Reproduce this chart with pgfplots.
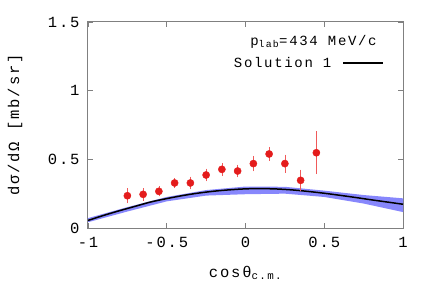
\documentclass[border=0pt]{standalone}
\usepackage{pgfplots}
\pgfplotsset{compat=1.18}
\usepackage{fontspec}
\setmainfont[LetterSpace=12]{Liberation Mono}
\definecolor{bandblue}{RGB}{135,135,252}
\definecolor{ptred}{RGB}{228,28,28}
\definecolor{errred}{RGB}{240,90,90}
\begin{document}
\begin{tikzpicture}
\useasboundingbox (-88pt,-77pt) rectangle (348pt,228pt);
\begin{axis}[
  at={(0pt,0pt)}, anchor=south west,
  scale only axis, width=315pt, height=206pt,
  xmin=-1, xmax=1, ymin=0, ymax=1.5,
  xtick={-1,-0.5,0,0.5,1}, ytick={0,0.5,1,1.5},
  xticklabels={-1,-0.5,0,0.5,1},
  yticklabels={0,0.5,1,1.5},
  tick align=inside, major tick length=5pt,
  tick style={gray, line width=0.8pt},
  axis line style={gray, line width=1pt},
  font=\fontsize{15.5}{18}\selectfont,
  ticklabel style={font=\fontsize{15.5}{18}\selectfont},
  xticklabel style={yshift=-6pt},
  yticklabel style={xshift=-5pt},
  xlabel={cosθ\textsubscript{c.m.}},
  ylabel={dσ/dΩ [mb/sr]},
  every axis x label/.style={at={(axis description cs:0.5,0)}, yshift=-45pt, anchor=center},
  every axis y label/.style={at={(axis description cs:0,0.5)}, xshift=-73pt, rotate=90, anchor=center},
  label style={font=\fontsize{15.5}{18}\selectfont},
  legend plot pos=right,
  legend style={draw=none, fill=none, at={(axis description cs:0.94,0.80)}, anchor=east,
    font=\fontsize{14}{16}\selectfont, inner sep=0pt, column sep=9pt},
  legend image code/.code={\draw[#1] (0pt,0pt) -- (40pt,0pt);},
]
% uncertainty band
\addplot[fill=bandblue, draw=none, forget plot] coordinates {
(-1,0.072) (-0.75,0.152) (-0.5,0.226) (-0.25,0.276) (0,0.302) (0.25,0.300) (0.5,0.272) (0.75,0.240) (1,0.216)
(1,0.116) (0.75,0.178) (0.5,0.226) (0.25,0.250) (0,0.246) (-0.25,0.236) (-0.5,0.194) (-0.75,0.120) (-1,0.042)
} -- cycle;
% solution 1
\addplot[black, line width=1.5pt, smooth] coordinates {
(-1,0.055) (-0.9,0.092) (-0.8,0.126) (-0.7,0.158) (-0.6,0.190) (-0.5,0.214) (-0.4,0.236)
(-0.3,0.254) (-0.2,0.268) (-0.1,0.278) (0,0.285) (0.1,0.287) (0.2,0.284) (0.3,0.277)
(0.4,0.266) (0.5,0.253) (0.6,0.238) (0.7,0.222) (0.8,0.205) (0.9,0.189) (1.0,0.173)
};
\addlegendentry{Solution 1}
% data
\addplot[only marks, mark=*, mark size=3.6pt, color=ptred, forget plot,
  error bars/.cd, y dir=both, y explicit,
  error bar style={errred, line width=0.6pt},
  error mark options={errred, mark size=2.2pt, line width=0.6pt}]
coordinates {
(-0.75,0.235) +- (0,0.040)
(-0.65,0.245) +- (0,0.030)
(-0.55,0.267) +- (0,0.020)
(-0.45,0.328) +- (0,0.020)
(-0.35,0.328) +- (0,0.030)
(-0.25,0.386) +- (0,0.030)
(-0.15,0.427) +- (0,0.030)
(-0.05,0.415) +- (0,0.030)
(0.05,0.469) +- (0,0.040)
(0.15,0.539) +- (0,0.035)
(0.25,0.469) +- (0,0.050)
(0.35,0.347) +- (0,0.062)
(0.45,0.548) +- (0,0.140)
};
\node[anchor=east, font=\fontsize{14}{16}\selectfont, inner sep=0pt] at (axis description cs:0.917,0.903) {p\textsubscript{lab}=434 MeV/c};
\end{axis}
\end{tikzpicture}
\end{document}
